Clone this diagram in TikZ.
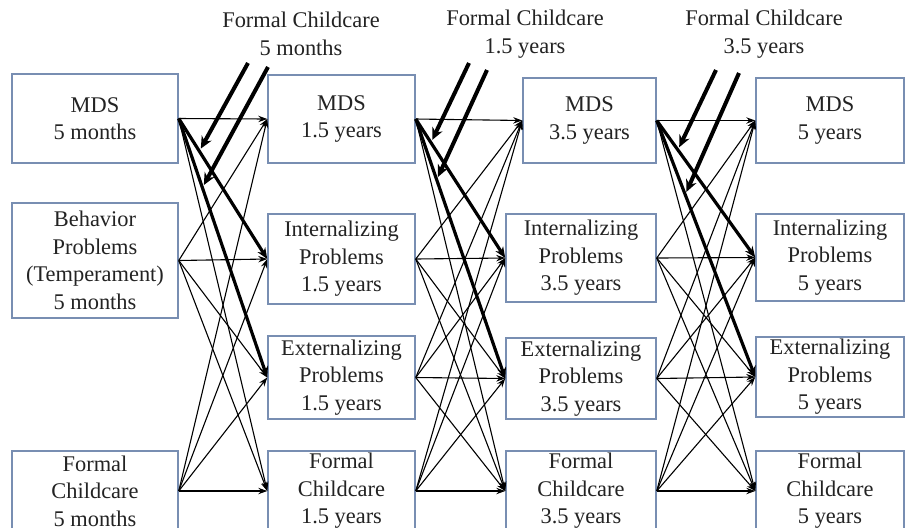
\documentclass[tikz,border=0pt]{standalone}
\usepackage{fontspec}
\setmainfont{Liberation Serif}
\usepackage{xcolor}
\usetikzlibrary{arrows.meta,positioning}
\definecolor{boxline}{RGB}{120,142,178}
\definecolor{labeltext}{RGB}{35,35,35}

\begin{document}
\begin{tikzpicture}[
    x=0.5pt, y=-0.5pt,
    box/.style={rectangle, draw=boxline, line width=0.75pt, align=center, inner sep=0pt, text=labeltext, font=\fontsize{11.2}{13.8}\selectfont},
    modlabel/.style={align=center, inner sep=0pt, text=labeltext, font=\fontsize{11.2}{13.8}\selectfont},
    arrow/.style={line width=0.55pt, -{Stealth[length=4.5pt,width=3.2pt]}},
    thickarrow/.style={line width=1.6pt, -{Stealth[length=5.5pt,width=4.5pt]}},
    modarrow/.style={line width=2pt, -{Stealth[length=6pt,width=5.5pt]}, shorten >=1.5pt}
]

\useasboundingbox[fill=white] (0,0) rectangle (907,527);

% 5 months (first column)
\node[box, minimum width=83pt, minimum height=44.5pt] (mds_5m) at (95,118.5) {MDS\\5 months};
\node[box, minimum width=83pt, minimum height=57.5pt] (beh_5m) at (95,260.5) {Behavior\\Problems\\(Temperament)\\5 months};
\node[box, minimum width=83pt, minimum height=40pt] (fc_5m) at (95,491) {Formal\\Childcare\\5 months};

% 1.5 years (second column)
\node[box, minimum width=73.5pt, minimum height=44pt] (mds_15y) at (341.5,119) {MDS\\1.5 years};
\node[box, minimum width=73.5pt, minimum height=45pt] (int_15y) at (341.5,259) {Internalizing\\Problems\\1.5 years};
\node[box, minimum width=73.5pt, minimum height=41.5pt] (ext_15y) at (341.5,377.5) {Externalizing\\Problems\\1.5 years};
\node[box, minimum width=73.5pt, minimum height=40pt] (fc_15y) at (341.5,491) {Formal\\Childcare\\1.5 years};

% 3.5 years (third column)
\node[box, minimum width=66.5pt, minimum height=42.5pt] (mds_35y) at (589.5,120.5) {MDS\\3.5 years};
\node[box, minimum width=75pt, minimum height=44pt] (int_35y) at (581,258) {Internalizing\\Problems\\3.5 years};
\node[box, minimum width=75pt, minimum height=40.5pt] (ext_35y) at (581,378.5) {Externalizing\\Problems\\3.5 years};
\node[box, minimum width=75pt, minimum height=40pt] (fc_35y) at (581,491) {Formal\\Childcare\\3.5 years};

% 5 years (fourth column)
\node[box, minimum width=74pt, minimum height=42.5pt] (mds_5y) at (830,120.5) {MDS\\5 years};
\node[box, minimum width=74pt, minimum height=43.5pt] (int_5y) at (830,257.5) {Internalizing\\Problems\\5 years};
\node[box, minimum width=74pt, minimum height=40pt] (ext_5y) at (830,377) {Externalizing\\Problems\\5 years};
\node[box, minimum width=74pt, minimum height=40pt] (fc_5y) at (830,491) {Formal\\Childcare\\5 years};

% Moderator labels (top)
\node[modlabel] (mod_5m) at (301,34) {Formal Childcare\\5 months};
\node[modlabel] (mod_15y) at (525,34) {Formal Childcare\\1.5 years};
\node[modlabel] (mod_35y) at (764,34) {Formal Childcare\\3.5 years};

% Paths 5 months -> 1.5 years
\draw[arrow] (mds_5m.east) -- (mds_15y.west);
\draw[arrow] (mds_5m.east) -- (fc_15y.west);
\draw[arrow] (beh_5m.east) -- (mds_15y.west);
\draw[arrow] (beh_5m.east) -- (int_15y.west);
\draw[arrow] (beh_5m.east) -- (ext_15y.west);
\draw[arrow] (beh_5m.east) -- (fc_15y.west);
\draw[arrow] (fc_5m.east) -- (mds_15y.west);
\draw[arrow] (fc_5m.east) -- (int_15y.west);
\draw[arrow] (fc_5m.east) -- (ext_15y.west);
\draw[arrow] (fc_5m.east) -- (fc_15y.west);
\draw[thickarrow] (mds_5m.east) -- (int_15y.west);
\draw[thickarrow] (mds_5m.east) -- (ext_15y.west);

% Paths 1.5 years -> 3.5 years
\draw[arrow] (mds_15y.east) -- (mds_35y.west);
\draw[arrow] (mds_15y.east) -- (fc_35y.west);
\draw[arrow] (int_15y.east) -- (mds_35y.west);
\draw[arrow] (int_15y.east) -- (int_35y.west);
\draw[arrow] (int_15y.east) -- (ext_35y.west);
\draw[arrow] (int_15y.east) -- (fc_35y.west);
\draw[arrow] (ext_15y.east) -- (mds_35y.west);
\draw[arrow] (ext_15y.east) -- (int_35y.west);
\draw[arrow] (ext_15y.east) -- (ext_35y.west);
\draw[arrow] (ext_15y.east) -- (fc_35y.west);
\draw[arrow] (fc_15y.east) -- (mds_35y.west);
\draw[arrow] (fc_15y.east) -- (int_35y.west);
\draw[arrow] (fc_15y.east) -- (ext_35y.west);
\draw[arrow] (fc_15y.east) -- (fc_35y.west);
\draw[thickarrow] (mds_15y.east) -- (int_35y.west);
\draw[thickarrow] (mds_15y.east) -- (ext_35y.west);

% Paths 3.5 years -> 5 years
\draw[arrow] (mds_35y.east) -- (mds_5y.west);
\draw[arrow] (mds_35y.east) -- (fc_5y.west);
\draw[arrow] (int_35y.east) -- (mds_5y.west);
\draw[arrow] (int_35y.east) -- (int_5y.west);
\draw[arrow] (int_35y.east) -- (ext_5y.west);
\draw[arrow] (int_35y.east) -- (fc_5y.west);
\draw[arrow] (ext_35y.east) -- (mds_5y.west);
\draw[arrow] (ext_35y.east) -- (int_5y.west);
\draw[arrow] (ext_35y.east) -- (ext_5y.west);
\draw[arrow] (ext_35y.east) -- (fc_5y.west);
\draw[arrow] (fc_35y.east) -- (mds_5y.west);
\draw[arrow] (fc_35y.east) -- (int_5y.west);
\draw[arrow] (fc_35y.east) -- (ext_5y.west);
\draw[arrow] (fc_35y.east) -- (fc_5y.west);
\draw[thickarrow] (mds_35y.east) -- (int_5y.west);
\draw[thickarrow] (mds_35y.east) -- (ext_5y.west);

% Moderation by formal childcare
\path (mds_5m.east) -- (int_15y.west) coordinate[pos=0.233] (on_int_15y);
\path (mds_5m.east) -- (ext_15y.west) coordinate[pos=0.267] (on_ext_15y);
\path (mds_15y.east) -- (int_35y.west) coordinate[pos=0.17] (on_int_35y);
\path (mds_15y.east) -- (ext_35y.west) coordinate[pos=0.234] (on_ext_35y);
\path (mds_35y.east) -- (int_5y.west) coordinate[pos=0.215] (on_int_5y);
\path (mds_35y.east) -- (ext_5y.west) coordinate[pos=0.289] (on_ext_5y);
\coordinate (from_5m_a) at (248,63);
\coordinate (from_5m_b) at (268,67);
\coordinate (from_15y_a) at (469,63);
\coordinate (from_15y_b) at (487,70);
\coordinate (from_35y_a) at (716,70);
\coordinate (from_35y_b) at (739,73);
\draw[modarrow] (from_5m_a) -- (on_int_15y);
\draw[modarrow] (from_5m_b) -- (on_ext_15y);
\draw[modarrow] (from_15y_a) -- (on_int_35y);
\draw[modarrow] (from_15y_b) -- (on_ext_35y);
\draw[modarrow] (from_35y_a) -- (on_int_5y);
\draw[modarrow] (from_35y_b) -- (on_ext_5y);

\end{tikzpicture}
\end{document}
